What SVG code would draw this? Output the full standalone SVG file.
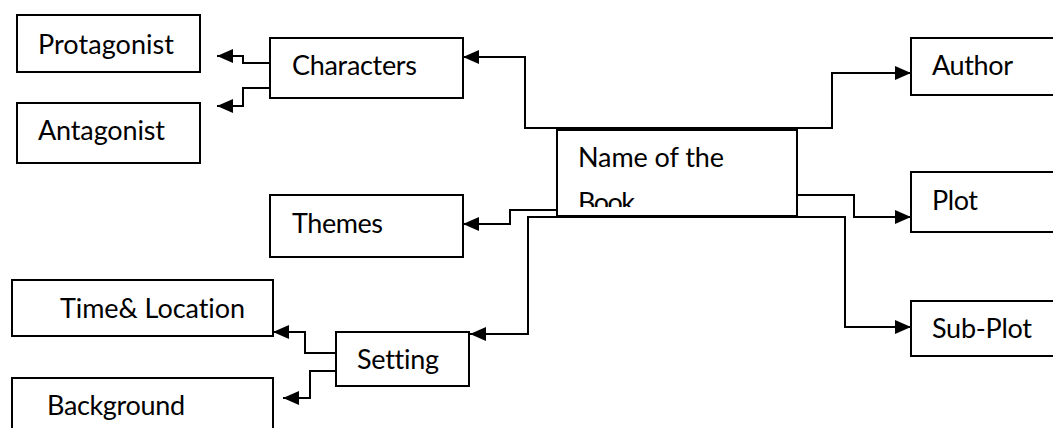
<svg xmlns="http://www.w3.org/2000/svg" width="1053" height="428" viewBox="0 0 1053 428">
<style>
.box{fill:#fff;stroke:#000;stroke-width:2}
.lbl{font-family:Lato,"Open Sans","Liberation Sans",sans-serif;font-size:27px;fill:#000;font-variant-ligatures:none}
.con{fill:none;stroke:#000;stroke-width:2;marker-end:url(#ah)}
.ln{fill:none;stroke:#000;stroke-width:2}
</style>
<defs>
<marker id="ah" viewBox="0 0 16 14" refX="16" refY="7" markerWidth="16" markerHeight="14" markerUnits="userSpaceOnUse" orient="auto">
<path d="M0,0 L16,7 L0,14 z" fill="#000"/>
</marker>
<clipPath id="nameclip"><rect x="557" y="130" width="240" height="77"/></clipPath>
</defs>
<rect width="1053" height="428" fill="#fff"/>

<g id="protagonist"><rect class="box" x="17" y="15" width="183" height="57"/><text class="lbl" x="38" y="54" textLength="136">Protagonist</text></g>
<g id="antagonist"><rect class="box" x="17" y="103" width="183" height="60"/><text class="lbl" x="38" y="140" textLength="127">Antagonist</text></g>
<g id="characters"><rect class="box" x="270" y="38" width="193" height="60"/><text class="lbl" x="292" y="75" textLength="125">Characters</text></g>
<g id="themes"><rect class="box" x="270" y="195" width="193" height="62"/><text class="lbl" x="292" y="233" textLength="91">Themes</text></g>
<g id="time-location"><rect class="box" x="12" y="280" width="261" height="56"/><text class="lbl" x="60" y="318" textLength="185">Time&amp; Location</text></g>
<g id="background"><rect class="box" x="12" y="378" width="261" height="60"/><text class="lbl" x="47" y="415" textLength="138">Background</text></g>
<g id="setting"><rect class="box" x="336" y="332" width="133" height="54"/><text class="lbl" x="357" y="369" textLength="82">Setting</text></g>
<g id="name-of-the-book"><rect class="box" x="557" y="130" width="240" height="86"/><g clip-path="url(#nameclip)"><text class="lbl" x="578" y="167" textLength="146">Name of the</text><text class="lbl" x="578" y="212" textLength="57">Book</text></g></g>
<g id="author"><rect class="box" x="911" y="38" width="160" height="57"/><text class="lbl" x="932" y="75" textLength="81">Author</text></g>
<g id="plot"><rect class="box" x="911" y="172" width="160" height="60"/><text class="lbl" x="932" y="210" textLength="46">Plot</text></g>
<g id="sub-plot"><rect class="box" x="911" y="301" width="160" height="55"/><text class="lbl" x="932" y="338" textLength="100">Sub-Plot</text></g>

<g id="connectors">
<polyline class="con" points="270,63 243,63 243,56 217,56"/>
<polyline class="con" points="270,88 243,88 243,106 217,106"/>
<polyline class="con" points="560,128 525,128 525,57 463,57"/>
<polyline class="con" points="792,128 832,128 832,73 911,73"/>
<polyline class="ln" points="525,128 832,128"/>
<polyline class="con" points="557,210 510,210 510,224 463,224"/>
<polyline class="con" points="560,217 528,217 528,334 470,334"/>
<polyline class="con" points="797,195 854,195 854,217 911,217"/>
<polyline class="con" points="790,217 845,217 845,327 911,327"/>
<polyline class="ln" points="528,217 845,217"/>
<polyline class="con" points="336,353 305,353 305,332 273,332"/>
<polyline class="con" points="336,371 310,371 310,398 283,398"/>
</g>
</svg>
